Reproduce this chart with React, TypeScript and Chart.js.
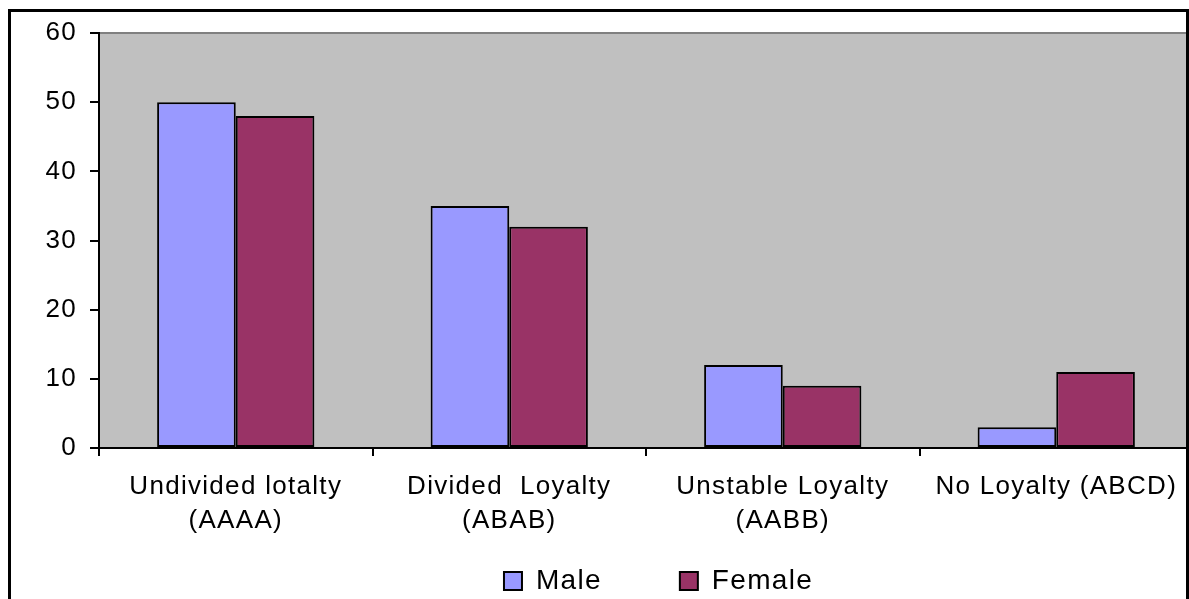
import React, { useEffect, useRef } from 'react';
import { Chart, registerables } from 'chart.js';

Chart.register(...registerables);

const categories: (string | string[])[] = [
  ['Undivided lotalty', '(AAAA)'],
  ['Divided  Loyalty', '(ABAB)'],
  ['Unstable Loyalty', '(AABB)'],
  'No Loyalty (ABCD)',
];
const maleValues = [50, 35, 12, 3];
const femaleValues = [48, 32, 9, 11];
const seriesNames = ['Male', 'Female'];
const yMin = 0;
const yMax = 60;
const yStep = 10;

const FONT = "'Liberation Sans', Arial, sans-serif";
const VIEW_W = 1189;
const VIEW_H = 599;
const CANVAS_W = 1194;
const CANVAS_H = 659;
const SPACING = '1.3px';

const decor = {
  id: 'decor',
  beforeLayout(chart: any) {
    chart.ctx.letterSpacing = SPACING;
  },
  afterLayout(chart: any) {
    const lg = chart.legend;
    if (lg) {
      const h = lg.height;
      lg.left = 124;
      lg.top = 489;
      lg.bottom = lg.top + h;
    }
  },
  beforeDraw(chart: any) {
    const ctx = chart.ctx as CanvasRenderingContext2D;
    (ctx as any).letterSpacing = SPACING;
    const a = chart.chartArea;
    ctx.save();
    ctx.fillStyle = '#ffffff';
    ctx.fillRect(0, 0, chart.width, chart.height);
    ctx.fillStyle = '#C0C0C0';
    ctx.fillRect(a.left, a.top, a.right - a.left, a.bottom - a.top);
    ctx.strokeStyle = '#808080';
    ctx.lineWidth = 2;
    ctx.beginPath();
    ctx.moveTo(a.left, a.top);
    ctx.lineTo(a.right, a.top);
    ctx.stroke();
    ctx.restore();
  },
  afterDraw(chart: any) {
    const ctx = chart.ctx as CanvasRenderingContext2D;
    ctx.save();
    ctx.fillStyle = '#ffffff';
    ctx.fillRect(1189, 0, chart.width - 1189, chart.height);
    ctx.strokeStyle = '#000000';
    ctx.lineWidth = 3;
    ctx.strokeRect(9.5, 10.5, 1178, 700);
    ctx.restore();
  },
};

export default function App() {
  const ref = useRef<HTMLCanvasElement | null>(null);

  useEffect(() => {
    if (!ref.current) return;
    const chart = new Chart(ref.current, {
      type: 'bar',
      data: {
        labels: categories,
        datasets: [
          {
            label: seriesNames[0],
            data: maleValues,
            backgroundColor: '#9999FF',
            borderColor: '#000000',
            borderWidth: 2,
            borderSkipped: false,
          },
          {
            label: seriesNames[1],
            data: femaleValues,
            backgroundColor: '#993366',
            borderColor: '#000000',
            borderWidth: 2,
            borderSkipped: false,
          },
        ],
      },
      options: {
        responsive: false,
        animation: false,
        devicePixelRatio: 1,
        layout: { padding: { top: 33, left: 0, right: 1, bottom: 0 } },
        plugins: {
          tooltip: { enabled: false },
          legend: {
            position: 'bottom',
            labels: {
              boxWidth: 18,
              boxHeight: 18,
              padding: 78,
              color: '#000000',
              font: { family: FONT, size: 28 },
            },
          },
        },
        datasets: {
          bar: { categoryPercentage: 0.575, barPercentage: 1.0 },
        },
        scales: {
          x: {
            offset: true,
            grid: {
              offset: true,
              drawOnChartArea: false,
              drawTicks: true,
              tickLength: 8,
              color: '#000000',
              lineWidth: 2,
            },
            border: { display: true, color: '#000000', width: 2 },
            ticks: {
              color: '#000000',
              font: { family: FONT, size: 26, lineHeight: 1.3 },
              padding: 14,
              maxRotation: 0,
              autoSkip: false,
            },
            afterFit(scale: any) {
              scale.height = 95;
            },
          },
          y: {
            min: yMin,
            max: yMax,
            grid: {
              drawOnChartArea: false,
              drawTicks: true,
              tickLength: 9,
              color: '#000000',
              lineWidth: 2,
            },
            border: { display: true, color: '#000000', width: 2 },
            ticks: {
              stepSize: yStep,
              color: '#000000',
              font: { family: FONT, size: 26 },
              padding: 13,
            },
            afterFit(scale: any) {
              scale.width = 99;
            },
          },
        },
      },
      plugins: [decor],
    });
    return () => chart.destroy();
  }, []);

  return (
    <div
      style={{
        position: 'fixed',
        left: 0,
        top: 0,
        width: VIEW_W,
        height: VIEW_H,
        overflow: 'hidden',
        background: '#ffffff',
      }}
    >
      <canvas
        ref={ref}
        width={CANVAS_W}
        height={CANVAS_H}
        style={{ display: 'block', width: CANVAS_W, height: CANVAS_H }}
      />
    </div>
  );
}
